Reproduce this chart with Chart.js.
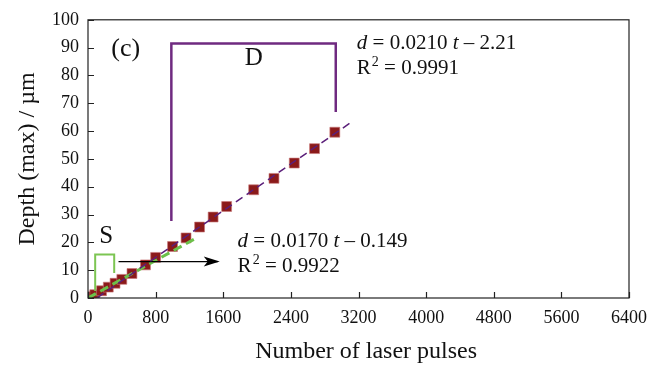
<!DOCTYPE html>
<html>
<head>
<meta charset="utf-8">
<script src="https://cdn.jsdelivr.net/npm/chart.js@4/dist/chart.umd.min.js"></script>
<style>
html,body{margin:0;padding:0;background:#fff;}
#wrap{width:661px;height:365px;position:relative;}
</style>
</head>
<body>
<div id="wrap"><canvas id="c" width="661" height="365"></canvas></div>
<script>
// ---- data ----
const pulses = [40, 80, 160, 240, 320, 400, 520, 680, 800, 1000, 1160, 1320, 1480, 1640, 1960, 2200, 2440, 2680, 2920];
const depth  = [0.5, 1.2, 2.6, 3.9, 5.3, 6.7, 8.8, 11.9, 14.6, 18.5, 21.6, 25.5, 29.1, 32.9, 38.9, 43.0, 48.5, 53.7, 59.6];

// fitted lines (end points)
const fitDx = [105, 3120];
const fitDy = [0, 63.3];
const fitSx = [0, 1300];
const fitSy = [0, 21.9];

// annotation brackets / arrow (data coordinates)
const bracketSx = [85, 85, 310, 310];
const bracketSy = [2.5, 15.6, 15.6, 9.0];
const bracketDx = [986, 986, 2931, 2931];
const bracketDy = [27.7, 91.5, 91.5, 66.9];
const arrowX = [361, 1535];
const arrowY = [13.1, 13.1];

const xTicks = [0, 800, 1600, 2400, 3200, 4000, 4800, 5600, 6400];
const yTicks = [0, 10, 20, 30, 40, 50, 60, 70, 80, 90, 100];

const xTitle = 'Number of laser pulses';
const yTitle = 'Depth (max) / \u00b5m';
const eqD = ['d = 0.0210 t \u2013 2.21', '0.9991'];
const eqS = ['d = 0.0170 t \u2013 0.149', '0.9922'];

const pts = (xs, ys) => xs.map((x, i) => ({x: x, y: ys[i]}));
const FONT = '"Liberation Serif", "Times New Roman", serif';

const frameAndTicks = {
  id: 'frameAndTicks',
  afterDatasetsDraw(chart) {
    const {ctx, chartArea: a, scales: {x, y}} = chart;
    ctx.save();
    ctx.strokeStyle = '#222';
    ctx.lineWidth = 1.2;
    ctx.strokeRect(a.left, a.top, a.right - a.left, a.bottom - a.top);
    ctx.beginPath();
    xTicks.forEach(v => { const px = Math.round(x.getPixelForValue(v)) + 0.5; ctx.moveTo(px, a.bottom); ctx.lineTo(px, a.bottom - 6); });
    yTicks.forEach(v => { const py = Math.round(y.getPixelForValue(v)) + 0.5; ctx.moveTo(a.left, py); ctx.lineTo(a.left + 6, py); });
    ctx.stroke();

    // arrow head
    const ax = x.getPixelForValue(arrowX[1]), ay = y.getPixelForValue(arrowY[1]);
    ctx.fillStyle = '#000';
    ctx.beginPath();
    ctx.moveTo(ax + 2, ay);
    ctx.lineTo(ax - 14, ay - 5);
    ctx.lineTo(ax - 10, ay);
    ctx.lineTo(ax - 14, ay + 5);
    ctx.closePath();
    ctx.fill();

    // x axis title (slightly right of centre, as in the original)
    ctx.fillStyle = '#111';
    ctx.textBaseline = 'middle';
    ctx.textAlign = 'center';
    ctx.font = '24px ' + FONT;
    ctx.fillText(xTitle, x.getPixelForValue(3290), a.bottom + 54);

    // texts
    ctx.textAlign = 'left';
    ctx.font = '26px ' + FONT;
    ctx.fillText('(c)', x.getPixelForValue(275), y.getPixelForValue(89.5));
    ctx.font = '25px ' + FONT;
    ctx.textAlign = 'center';
    ctx.fillText('D', x.getPixelForValue(1960), y.getPixelForValue(86.2));
    ctx.fillText('S', x.getPixelForValue(215), y.getPixelForValue(22));

    const eq = (lines, tx, ty) => {
      ctx.textAlign = 'left';
      let px = x.getPixelForValue(tx), py = y.getPixelForValue(ty);
      const parts = [['d', true], [' = ' + lines[0].slice(4, lines[0].indexOf(' t')) + ' ', false], ['t', true], [lines[0].slice(lines[0].indexOf(' t') + 2), false]];
      let cx = px;
      parts.forEach(([s, it]) => {
        ctx.font = (it ? 'italic ' : '') + '21px ' + FONT;
        ctx.fillText(s, cx, py);
        cx += ctx.measureText(s).width;
      });
      const py2 = py + 25;
      ctx.font = '21px ' + FONT;
      ctx.fillText('R', px, py2);
      let w = ctx.measureText('R').width;
      ctx.font = '14px ' + FONT;
      ctx.fillText('2', px + w + 1, py2 - 6);
      let w2 = ctx.measureText('2').width;
      ctx.font = '21px ' + FONT;
      ctx.fillText(' = ' + lines[1], px + w + w2 + 1, py2);
    };
    eq(eqD, 3180, 91.5);
    eq(eqS, 1770, 20.3);
    ctx.restore();
  }
};

new Chart(document.getElementById('c'), {
  type: 'scatter',
  data: {
    datasets: [
      {label: 'data', data: pts(pulses, depth), pointStyle: 'rect', pointRadius: 7, pointHoverRadius: 7,
       backgroundColor: '#8b1a1a', borderColor: 'rgba(200,120,120,0.8)', borderWidth: 0.8, order: 3},
      {label: 'fitD', data: pts(fitDx, fitDy), showLine: true, pointRadius: 0, borderColor: '#5b1f7a',
       borderWidth: 1.5, borderDash: [8, 5], order: 1},
      {label: 'fitS', data: pts(fitSx, fitSy), showLine: true, pointRadius: 0, borderColor: '#6cc04a',
       borderWidth: 3, borderDash: [9, 5], order: 2},
      {label: 'bracketS', data: pts(bracketSx, bracketSy), showLine: true, pointRadius: 0, borderColor: '#7cc552',
       borderWidth: 2, order: 1},
      {label: 'bracketD', data: pts(bracketDx, bracketDy), showLine: true, pointRadius: 0, borderColor: '#6f2a80',
       borderWidth: 2.5, order: 1},
      {label: 'arrow', data: pts(arrowX, arrowY), showLine: true, pointRadius: 0, borderColor: '#000',
       borderWidth: 1.3, order: 1}
    ]
  },
  options: {
    responsive: false,
    animation: false,
    layout: {padding: {top: 14, right: 32, left: 0, bottom: 0}},
    plugins: {legend: {display: false}, tooltip: {enabled: false}},
    scales: {
      x: {
        type: 'linear', min: 0, max: 6400,
        afterBuildTicks: s => { s.ticks = xTicks.map(v => ({value: v})); },
        afterFit: s => { s.height = 67; },
        grid: {display: false, drawTicks: false},
        border: {display: false},
        ticks: {color: '#111', padding: 9, font: {family: FONT, size: 18}, maxRotation: 0, callback: v => String(v)},
        title: {display: false}
      },
      y: {
        type: 'linear', min: 0, max: 100,
        afterBuildTicks: s => { s.ticks = yTicks.map(v => ({value: v})); },
        afterFit: s => { s.width = 88; },
        grid: {display: false, drawTicks: false},
        border: {display: false},
        ticks: {color: '#111', padding: 9, font: {family: FONT, size: 18}, callback: v => String(v)},
        title: {display: true, text: yTitle, color: '#111', font: {family: FONT, size: 24}, padding: {top: 13, bottom: 0}}
      }
    }
  },
  plugins: [frameAndTicks]
});
</script>
</body>
</html>
